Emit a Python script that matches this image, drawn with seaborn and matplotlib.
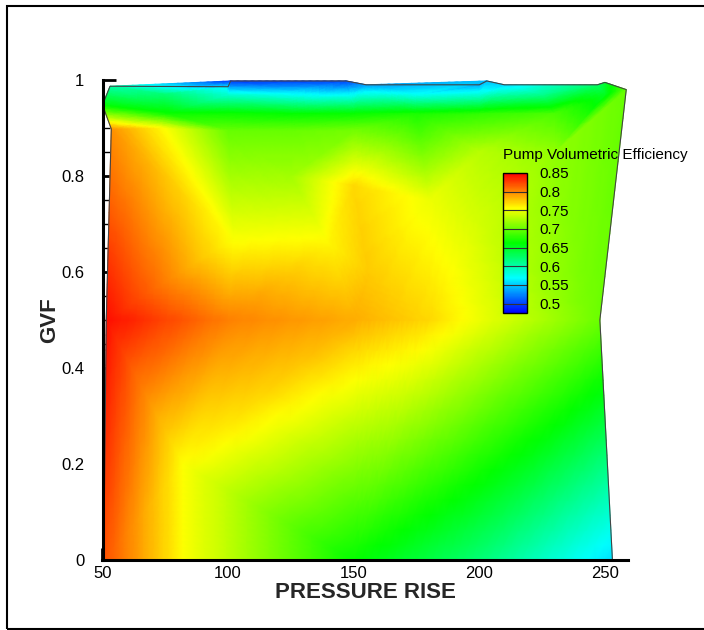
import numpy as np
import matplotlib
matplotlib.use("Agg")
import matplotlib.pyplot as plt
import matplotlib.tri as mtri
from matplotlib.colors import LinearSegmentedColormap
from matplotlib.path import Path
from matplotlib.patches import Rectangle
from matplotlib.ticker import MultipleLocator
import seaborn as sns

# ---- data: boundary nodes (counter-clockwise) ----
bnd_pressure = [50.5, 82, 150, 200, 253, 248, 258.5, 250, 247, 210, 203, 200, 155, 147, 101, 100, 53, 50, 53.5, 51.5]
bnd_gvf = [0.0, 0.0, 0.0, 0.0, 0.0, 0.5, 0.98, 0.995, 0.99, 0.99, 0.998, 0.99, 0.99, 0.998, 0.998, 0.986, 0.987, 0.948, 0.898, 0.5]
bnd_eff = [0.820, 0.756, 0.664, 0.620, 0.557, 0.702, 0.700, 0.645, 0.625, 0.555, 0.545, 0.540, 0.535, 0.500, 0.495, 0.560, 0.600, 0.660, 0.796, 0.845]

# ---- data: interior nodes ----
int_pressure = [100, 150, 180, 82, 73, 102, 140, 150, 156, 125, 200, 180, 200, 230,
                100, 125, 150,
                75, 100, 125, 150, 175, 200, 230,
                75, 100, 125, 150, 175, 200, 225, 250]
int_gvf = [0.5, 0.5, 0.5, 0.2, 0.9, 0.67, 0.66, 0.78, 0.6, 0.8, 0.7, 0.75, 0.85, 0.85,
           0.895, 0.895, 0.895,
           0.93, 0.93, 0.93, 0.93, 0.93, 0.93, 0.93,
           0.97, 0.97, 0.975, 0.975, 0.97, 0.97, 0.97, 0.97]
int_eff = [0.802, 0.786, 0.770, 0.756, 0.759, 0.754, 0.759, 0.770, 0.775, 0.722, 0.740, 0.750, 0.730, 0.716,
           0.700, 0.700, 0.705,
           0.668, 0.667, 0.663, 0.665, 0.672, 0.680, 0.690,
           0.620, 0.585, 0.560, 0.560, 0.572, 0.582, 0.610, 0.650]

levels = [0.5, 0.55, 0.6, 0.65, 0.7, 0.75, 0.8, 0.85]
level_labels = ["0.5", "0.55", "0.6", "0.65", "0.7", "0.75", "0.8", "0.85"]
x_ticks = [50, 100, 150, 200, 250]
y_ticks = [0, 0.2, 0.4, 0.6, 0.8, 1]
y_tick_labels = ["0", "0.2", "0.4", "0.6", "0.8", "1"]

sns.set_theme(style="ticks")
plt.rcParams['font.family'] = ['Liberation Sans', 'DejaVu Sans']

px = np.array(bnd_pressure + int_pressure, dtype=float)
gv = np.array(bnd_gvf + int_gvf, dtype=float)
ef = np.array(bnd_eff + int_eff, dtype=float)

# triangulate in screen-like proportions, drop triangles outside the boundary
base = mtri.Triangulation((px - 50) * 2.51, gv * 480)
tris = base.triangles
poly = Path(np.column_stack([bnd_pressure, bnd_gvf]))
cx = px[tris].mean(axis=1)
cy = gv[tris].mean(axis=1)
keep = poly.contains_points(np.column_stack([cx, cy]))
tri = mtri.Triangulation(px, gv, triangles=tris[keep])

# refine so that colours follow linear value interpolation
refiner = mtri.UniformTriRefiner(tri)
interp = mtri.LinearTriInterpolator(tri, ef)
tri_f, ef_f = refiner.refine_field(ef, triinterpolator=interp, subdiv=4)

cmap = LinearSegmentedColormap.from_list(
    "tecrainbow", [(0, 0, 1), (0, 1, 1), (0, 1, 0), (1, 1, 0), (1, 0, 0)])

fig = plt.figure(figsize=(7.04, 6.3), dpi=100)
ax = fig.add_axes([102.5 / 704, 70 / 630, 525 / 704, 480 / 630])
tpc = ax.tripcolor(tri_f, ef_f, shading="gouraud", cmap=cmap, vmin=0.475, vmax=0.85, zorder=1)
bx = list(bnd_pressure) + [bnd_pressure[0]]
by = list(bnd_gvf) + [bnd_gvf[0]]
ax.plot(bx, by, color="#444444", lw=0.8, zorder=1.5)

ax.set_xlim(50, 259)
ax.set_ylim(0, 1)
for s in ["top", "right"]:
    ax.spines[s].set_visible(False)
for s in ["left", "bottom"]:
    ax.spines[s].set_linewidth(2.2)
    ax.spines[s].set_color("black")
ax.set_xticks(x_ticks)
ax.set_xticklabels([str(v) for v in x_ticks])
ax.set_yticks(y_ticks)
ax.set_yticklabels(y_tick_labels)
ax.xaxis.set_minor_locator(MultipleLocator(10))
ax.yaxis.set_minor_locator(MultipleLocator(0.05))
ax.tick_params(axis="both", which="major", direction="in", length=9, width=2,
               labelsize=12, colors="black")
ax.tick_params(axis="both", which="minor", direction="in", length=5, width=1, colors="black")
ax.tick_params(axis="y", which="major", pad=13)
ax.tick_params(axis="x", which="major", pad=4)
ax.set_facecolor("white")

ax.set_xlabel("PRESSURE RISE", fontsize=16, fontweight="bold")
ax.set_ylabel("GVF", fontsize=16, fontweight="bold")
ax.xaxis.set_label_coords(0.5, -0.0667)
ax.xaxis.label.set_verticalalignment("center")
ax.yaxis.set_label_coords((50 - 102.5) / 525, 0.5)
ax.yaxis.label.set_verticalalignment("center")

# legend bar
cax = fig.add_axes([503 / 704, (630 - 313) / 630, 24 / 704, 140 / 630])
cb = fig.colorbar(tpc, cax=cax, ticks=levels)
cb.ax.set_yticklabels(level_labels)
cb.ax.tick_params(length=0, pad=9, labelsize=11, colors="black")
cb.outline.set_edgecolor("black")
cb.outline.set_linewidth(1.0)
for lv in levels[:-1]:
    cax.axhline(lv, color="#333333", lw=0.8)
fig.text(503 / 704, 1 - 155 / 630, "Pump Volumetric Efficiency", fontsize=11,
         ha="left", va="center", color="black")

fig.add_artist(Rectangle((7.5 / 704, 1.0 / 630), 1.05, 623 / 630, transform=fig.transFigure,
                         fill=False, edgecolor="black", lw=1.5, clip_on=False))

fig.savefig("out.png", dpi=100, facecolor="white")
